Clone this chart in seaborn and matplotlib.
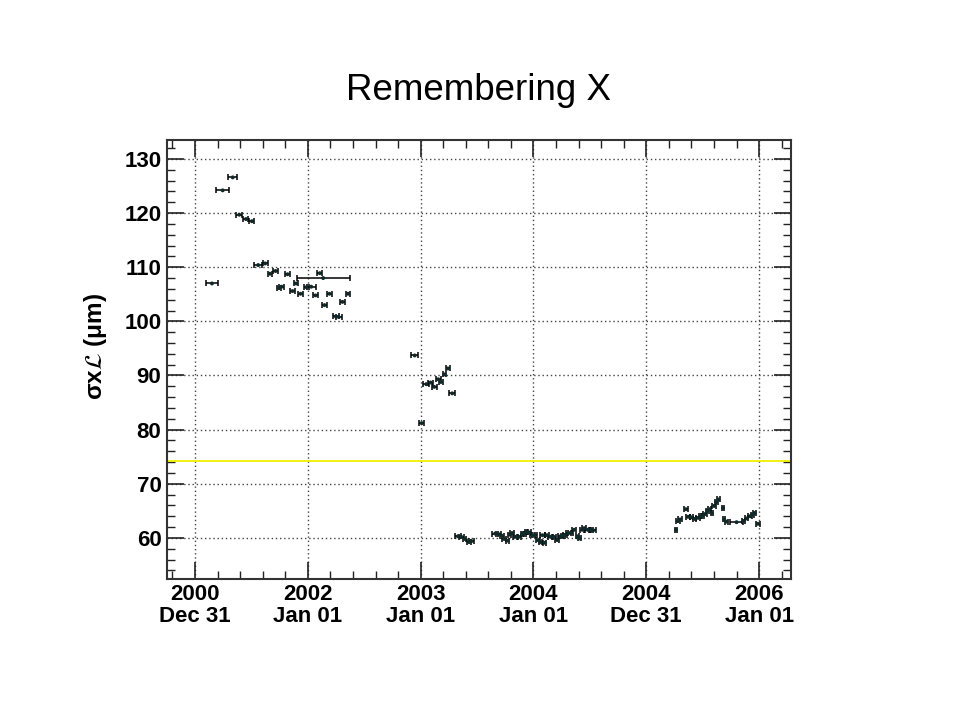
import numpy as np
import pandas as pd
import matplotlib
matplotlib.use("Agg")
import matplotlib.pyplot as plt
from matplotlib.ticker import MultipleLocator, FixedLocator
import seaborn as sns

# x is in "tick units": 0 = 2000 Dec 31, 1 = 2002 Jan 01, ... 5 = 2006 Jan 01
TICK_POS = [0, 1, 2, 3, 4, 5]
TICK_LABELS = ["2000\nDec 31", "2002\nJan 01", "2003\nJan 01",
               "2004\nJan 01", "2004\nDec 31", "2006\nJan 01"]

# early period
x_2001 = [0.15, 0.245, 0.334, 0.392, 0.451, 0.504, 0.56, 0.622, 0.664, 0.714,
          0.743, 0.767, 0.82, 0.864, 0.897, 0.935, 0.988, 1.03, 1.068, 1.106,
          1.136, 1.148, 1.192, 1.248, 1.274, 1.307, 1.357]
y_2001 = [107.0, 124.2, 126.6, 119.7, 118.9, 118.5, 110.4, 110.7, 108.8, 109.3,
          106.2, 106.4, 108.7, 105.6, 107.0, 105.1, 106.3, 106.4, 104.8, 108.9,
          108.0, 103.0, 105.1, 100.9, 100.8, 103.6, 105.1]
xerr_2001 = [0.055, 0.056, 0.04, 0.025, 0.022, 0.022, 0.035, 0.022, 0.02, 0.022,
             0.02, 0.022, 0.02, 0.02, 0.02, 0.02, 0.025, 0.04, 0.02, 0.022,
             0.236, 0.02, 0.02, 0.025, 0.025, 0.02, 0.02]

# 2003
x_2003 = [1.947, 2.009, 2.05, 2.088, 2.121, 2.156, 2.18, 2.21, 2.242, 2.28]
y_2003 = [93.7, 81.2, 88.4, 88.7, 87.9, 89.3, 88.8, 90.2, 91.3, 86.7]
xerr_2003 = [0.03, 0.02, 0.025, 0.02, 0.02, 0.02, 0.015, 0.015, 0.015, 0.025]

# 2004 cluster
x_2004 = [2.33, 2.36, 2.39, 2.43, 2.45, 2.66, 2.69, 2.72, 2.74, 2.77,
          2.79, 2.81, 2.84, 2.87, 2.90, 2.92, 2.94, 2.96, 2.99, 3.01,
          3.04, 3.06, 3.08, 3.10, 3.12, 3.15, 3.18, 3.21, 3.24, 3.26,
          3.28, 3.31, 3.33, 3.36, 3.39, 3.41, 3.43, 3.45, 3.48, 3.51,
          3.53]
y_2004 = [60.3, 60.2, 59.8, 59.3, 59.4, 60.8, 60.7, 60.4, 59.8, 59.5,
          60.6, 60.9, 60.2, 60.2, 60.7, 60.8, 61.1, 61.0, 60.5, 60.5,
          59.6, 59.2, 60.5, 59.1, 60.5, 60.2, 60.2, 59.6, 60.3, 60.4,
          60.5, 60.9, 60.9, 61.5, 60.3, 59.9, 61.5, 61.8, 61.5, 61.5,
          61.4]
xerr_2004 = [0.03, 0.02, 0.015, 0.02, 0.02, 0.025, 0.02, 0.015, 0.015, 0.015,
             0.015, 0.015, 0.02, 0.02, 0.015, 0.015, 0.015, 0.02, 0.02, 0.02,
             0.015, 0.015, 0.02, 0.015, 0.02, 0.02, 0.02, 0.015, 0.02, 0.02,
             0.02, 0.02, 0.02, 0.015, 0.015, 0.015, 0.02, 0.02, 0.02, 0.02,
             0.02]

# 2005 cluster
x_2005 = [4.263, 4.28, 4.30, 4.35, 4.37, 4.40, 4.43, 4.46, 4.48, 4.50,
          4.52, 4.54, 4.56, 4.58, 4.60, 4.62, 4.64, 4.68, 4.69, 4.71,
          4.80, 4.86, 4.89, 4.92, 4.94, 4.96, 4.99]
y_2005 = [61.5, 63.1, 63.4, 65.3, 63.9, 63.8, 63.5, 63.7, 64.0, 64.1,
          64.4, 65.0, 65.3, 64.6, 65.9, 66.6, 67.1, 65.5, 63.4, 63.0,
          62.9, 63.1, 63.6, 64.0, 64.3, 64.6, 62.6]
xerr_2005 = [0.01, 0.015, 0.015, 0.02, 0.015, 0.015, 0.015, 0.015, 0.015, 0.015,
             0.015, 0.015, 0.015, 0.01, 0.015, 0.015, 0.015, 0.01, 0.01, 0.015,
             0.06, 0.015, 0.015, 0.015, 0.015, 0.01, 0.02]

REF_LEVEL = 74.2

df = pd.DataFrame({
    "x": x_2001 + x_2003 + x_2004 + x_2005,
    "y": y_2001 + y_2003 + y_2004 + y_2005,
    "xerr": xerr_2001 + xerr_2003 + xerr_2004 + xerr_2005,
})

sns.set_style("white")
plt.rcParams["font.family"] = ["Liberation Sans", "DejaVu Sans"]
plt.rcParams["text.color"] = "black"
plt.rcParams["axes.labelcolor"] = "black"
plt.rcParams["xtick.color"] = "black"
plt.rcParams["ytick.color"] = "black"
plt.rcParams["mathtext.fontset"] = "dejavusans"

fig = plt.figure(figsize=(9.6, 7.2), dpi=100)
ax = fig.add_axes([0.174, 0.196, 0.650, 0.610])

ax.axhline(REF_LEVEL, color="#f0f000", lw=1.3, zorder=1)
ax.errorbar(df["x"], df["y"], xerr=df["xerr"], fmt="none", ecolor="black",
            elinewidth=1.1, capsize=2.5, capthick=1.1, zorder=3)
sns.scatterplot(data=df, x="x", y="y", ax=ax, color="#0f2a2a", s=8,
                marker="o", edgecolor="none", zorder=4, legend=False)

ax.set_xlim(-0.248, 5.283)
ax.set_ylim(52.43, 133.56)

ax.xaxis.set_major_locator(FixedLocator(TICK_POS))
ax.xaxis.set_minor_locator(MultipleLocator(0.2))
ax.set_xticklabels(TICK_LABELS)
ax.yaxis.set_major_locator(MultipleLocator(10))
ax.yaxis.set_minor_locator(MultipleLocator(2))

ax.tick_params(which="both", direction="in", top=True, right=True,
               bottom=True, left=True, color="#222222")
ax.tick_params(which="major", length=12, width=1.2, labelsize=16, pad=4)
ax.tick_params(which="minor", length=6, width=1.0)
for lbl in ax.get_xticklabels() + ax.get_yticklabels():
    lbl.set_fontweight("bold")
for lbl in ax.get_xticklabels():
    lbl.set_linespacing(1.05)

ax.grid(True, which="major", linestyle=(0, (1, 2)), color="#444444", lw=1.0)
for sp in ax.spines.values():
    sp.set_color("#333333")
    sp.set_linewidth(1.5)

ax.set_xlabel("")
ax.set_ylabel("σx$\\mathcal{L}$ (μm)", fontsize=17.5, fontweight="bold")
ax.yaxis.set_label_coords(-0.093, 0.528)

fig.text(0.498, 1 - 90 / 720, "Remembering X", fontsize=26.5,
         ha="center", va="center", color="black")

fig.savefig("out.png", dpi=100)
